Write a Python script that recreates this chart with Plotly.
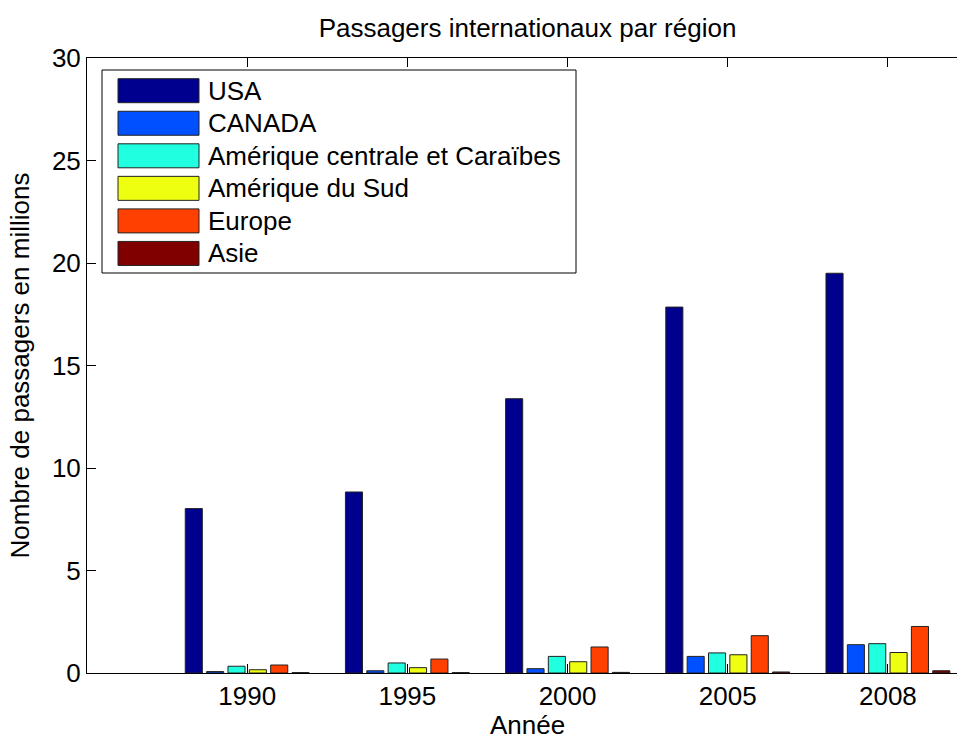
import plotly.graph_objects as go

# ---------------- data ----------------
years = ["1990", "1995", "2000", "2005", "2008"]
series_names = ["USA", "CANADA", "Amérique centrale et Caraïbes",
                "Amérique du Sud", "Europe", "Asie"]
usa = [8.02, 8.83, 13.38, 17.85, 19.5]
canada = [0.07, 0.11, 0.21, 0.81, 1.38]
amerique_centrale = [0.33, 0.49, 0.81, 0.98, 1.43]
amerique_sud = [0.16, 0.26, 0.55, 0.89, 1.0]
europe = [0.39, 0.68, 1.27, 1.82, 2.27]
asie = [0.02, 0.02, 0.03, 0.05, 0.11]
series_values = [usa, canada, amerique_centrale, amerique_sud, europe, asie]
colors = ["#00008F", "#0050FF", "#20FFDF", "#EFFF10", "#FF4000", "#800000"]

FONT = "Liberation Sans, Arial, Helvetica, sans-serif"
FS = 26

# the original figure is wider than the window and is clipped on the right
W, H = 968, 740
ML, MT, MB, MR = 87, 58, 67, 0
plot_w = W - ML - MR
plot_h = H - MT - MB

positions = list(range(1, len(years) + 1))

fig = go.Figure()
for name, vals, col in zip(series_names, series_values, colors):
    fig.add_bar(x=positions, y=vals, name=name,
                marker=dict(color=col, line=dict(color="#222222", width=1)))


def px_x(px):
    return (px - ML) / plot_w


def px_y(py):
    return (H - MB - py) / plot_h


# custom MATLAB-like legend
shapes = [dict(type="rect", xref="paper", yref="paper",
               x0=px_x(102), x1=px_x(576), y0=px_y(273), y1=px_y(70),
               line=dict(color="black", width=1), fillcolor="white", layer="above")]
annotations = []
row0, row_step = 90.7, 32.55
for i, (name, col) in enumerate(zip(series_names, colors)):
    cy = row0 + i * row_step
    shapes.append(dict(type="rect", xref="paper", yref="paper",
                       x0=px_x(118), x1=px_x(199), y0=px_y(cy + 12), y1=px_y(cy - 12),
                       line=dict(color="#222222", width=1), fillcolor=col, layer="above"))
    annotations.append(dict(xref="paper", yref="paper", x=px_x(206), y=px_y(cy),
                            xanchor="left", yanchor="middle", text=name, showarrow=False,
                            font=dict(family=FONT, size=FS, color="black")))

fig.update_layout(
    width=W, height=H,
    margin=dict(l=ML, r=MR, t=MT, b=MB, pad=0, autoexpand=False),
    paper_bgcolor="white", plot_bgcolor="white",
    barmode="group", bargap=0.2, bargroupgap=0.2,
    showlegend=False,
    font=dict(family=FONT, size=FS, color="black"),
    title=dict(text="Passagers internationaux par région", x=0.5, xref="paper",
               xanchor="center", y=1 - 28 / H, yref="container", yanchor="middle",
               font=dict(family=FONT, size=FS, color="black")),
    xaxis=dict(range=[0, 5.5], tickvals=positions, ticktext=years,
               ticks="inside", ticklen=9, tickcolor="black", tickwidth=1,
               showline=True, linecolor="black", linewidth=1, mirror="ticks",
               showgrid=False, zeroline=False, automargin=False,
               title=dict(text="Année", standoff=16,
                          font=dict(family=FONT, size=FS, color="black")),
               tickfont=dict(family=FONT, size=FS, color="black")),
    yaxis=dict(range=[0, 30], dtick=5, tick0=0,
               ticks="inside", ticklen=9, tickcolor="black", tickwidth=1,
               showline=True, linecolor="black", linewidth=1, mirror=False,
               showgrid=False, zeroline=False, automargin=False,
               title=dict(text="Nombre de passagers en millions", standoff=14,
                          font=dict(family=FONT, size=FS, color="black")),
               tickfont=dict(family=FONT, size=FS, color="black")),
    shapes=shapes, annotations=annotations,
)

fig.write_html(
    "out.html",
    config={"displayModeBar": False},
    post_script="document.body.style.margin='0px';document.body.style.overflow='hidden';",
)
